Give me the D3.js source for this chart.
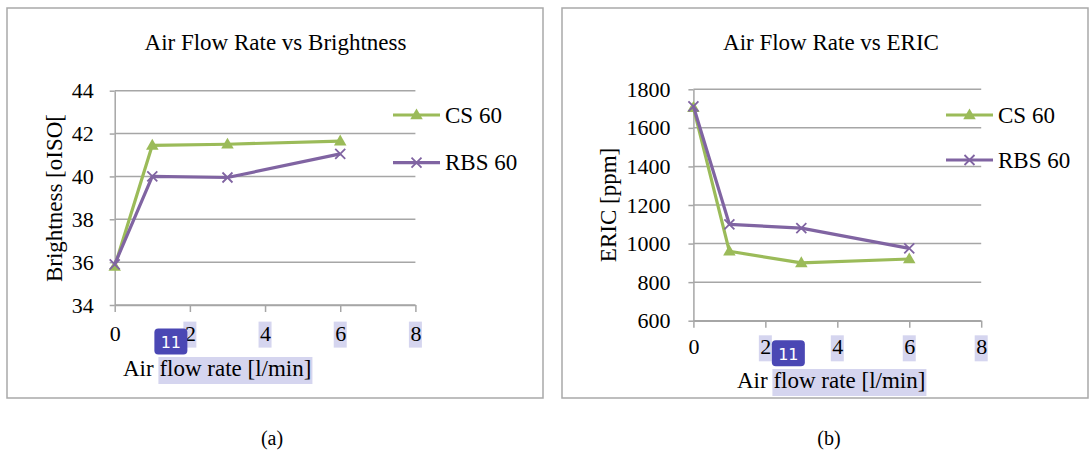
<!DOCTYPE html>
<html>
<head>
<meta charset="utf-8">
<script src="https://cdn.jsdelivr.net/npm/d3@7"></script>
<style>
  html, body { margin: 0; padding: 0; background: #ffffff; }
  svg text { font-family: "Liberation Serif", "Times New Roman", Times, serif; fill: #000; }
</style>
</head>
<body>
<svg id="chart" width="1090" height="457"></svg>
<script>
// ---- data ----
const airFlow = [0, 1, 3, 6];
const seriesNames = ["CS 60", "RBS 60"];
const brightnessCS = [35.8, 41.45, 41.5, 41.65];
const brightnessRBS = [35.9, 40.0, 39.95, 41.05];
const ericCS = [1705, 960, 900, 920];
const ericRBS = [1712, 1100, 1080, 975];
const xTicks = [0, 2, 4, 6, 8];
const brightnessTicks = [34, 36, 38, 40, 42, 44];
const ericTicks = [600, 800, 1000, 1200, 1400, 1600, 1800];
const highlightedXTicks = [2, 4, 6, 8];
const titles = ["Air Flow Rate vs Brightness", "Air Flow Rate vs ERIC"];
const yLabels = ["Brightness [oISO[", "ERIC [ppm]"];
const xLabel = "Air flow rate [l/min]";
const captions = ["(a)", "(b)"];
const badgeText = "11";

// ---- styles ----
const FONT = "'Liberation Serif', 'Times New Roman', Times, serif";
const colors = ["#9bbb59", "#8064a2"];
const gridColor = "#a6a6a6";
const hlColor = "#d5d5ef";
const badgeColor = "#4a47b4";

const svg = d3.select("#chart");

const panels = [
  {
    box: [7, 8, 543, 398],
    xRange: [114.7, 415.4], yRange: [305, 90.7],
    yDomain: [34, 44], yTicks: brightnessTicks,
    series: [brightnessCS, brightnessRBS],
    title: titles[0], titleX: 275.5, titleY: 50,
    yLabel: yLabels[0], yLabelX: 54, yLabelY: 198,
    xLabelX: 123, xLabelY: 376,
    yTickPad: 16, xTickPad: 13,
    legendX: 393, legendY: [115, 162.7],
    caption: captions[0], captionX: 272,
    badgeLeft: true, badgeDy: 8
  },
  {
    box: [562, 8, 1088, 398],
    xRange: [693.4, 981.2], yRange: [320.7, 89.3],
    yDomain: [600, 1800], yTicks: ericTicks,
    series: [ericCS, ericRBS],
    title: titles[1], titleX: 831, titleY: 50,
    yLabel: yLabels[1], yLabelX: 608, yLabelY: 205,
    xLabelX: 737, xLabelY: 388,
    yTickPad: 18, xTickPad: 11,
    legendX: 946, legendY: [115, 160],
    caption: captions[1], captionX: 829,
    badgeLeft: false, badgeDy: 6
  }
];

function triangle(g, cx, cy, color) {
  const s = 12.5, h = s * Math.sqrt(3) / 2;
  g.append("path")
    .attr("d", `M${cx},${cy - h * 0.6}L${cx + s / 2},${cy + h * 0.4}L${cx - s / 2},${cy + h * 0.4}Z`)
    .attr("fill", color);
}
function cross(g, cx, cy, color) {
  const r = 5;
  g.append("path")
    .attr("d", `M${cx - r},${cy - r}L${cx + r},${cy + r}M${cx - r},${cy + r}L${cx + r},${cy - r}`)
    .attr("stroke", color).attr("stroke-width", 1.8).attr("fill", "none");
}
const markers = [triangle, cross];

panels.forEach(p => {
  const g = svg.append("g");
  const [bx0, by0, bx1, by1] = p.box;
  g.append("rect").attr("x", bx0).attr("y", by0).attr("width", bx1 - bx0).attr("height", by1 - by0)
    .attr("fill", "#fff").attr("stroke", "#a9a9a9").attr("stroke-width", 1.5);

  const x = d3.scaleLinear().domain([0, 8]).range(p.xRange);
  const y = d3.scaleLinear().domain(p.yDomain).range(p.yRange);

  // title
  g.append("text").attr("x", p.titleX).attr("y", p.titleY).attr("text-anchor", "middle")
    .style("font-family", FONT).style("font-size", "23px").text(p.title);

  // gridlines
  g.append("g").selectAll("line").data(p.yTicks).join("line")
    .attr("x1", p.xRange[0]).attr("x2", p.xRange[1])
    .attr("y1", d => y(d)).attr("y2", d => y(d))
    .attr("stroke", gridColor).attr("stroke-width", 1.5);

  const hlLayer = g.append("g");

  // y axis
  const ya = g.append("g").attr("transform", `translate(${p.xRange[0]},0)`)
    .call(d3.axisLeft(y).tickValues(p.yTicks).tickFormat(d3.format("d"))
      .tickSize(5).tickSizeOuter(0).tickPadding(p.yTickPad));
  ya.attr("font-family", null);
  ya.select(".domain").attr("stroke", gridColor).attr("stroke-width", 1.5);
  ya.selectAll(".tick line").attr("stroke", gridColor).attr("stroke-width", 1.5);
  ya.selectAll("text").style("font-size", "22px").style("font-family", FONT);

  // x axis
  const xa = g.append("g").attr("transform", `translate(0,${p.yRange[0]})`)
    .call(d3.axisBottom(x).tickValues(xTicks).tickFormat(d3.format("d"))
      .tickSize(7).tickSizeOuter(0).tickPadding(p.xTickPad));
  xa.attr("font-family", null);
  xa.select(".domain").attr("stroke", gridColor).attr("stroke-width", 1.5);
  xa.selectAll(".tick line").attr("stroke", gridColor).attr("stroke-width", 1.5);
  xa.selectAll("text").style("font-size", "22px").style("font-family", FONT);

  // highlight selected x tick labels
  let tick2Box = null;
  xa.selectAll(".tick").each(function (d) {
    if (highlightedXTicks.includes(d)) {
      const t = d3.select(this).select("text").node();
      const bb = t.getBBox();
      hlLayer.append("rect")
        .attr("x", x(d) + bb.x - 1).attr("y", p.yRange[0] + bb.y + 1)
        .attr("width", bb.width + 2).attr("height", bb.height + 1)
        .attr("fill", hlColor);
      if (d === 2) tick2Box = { x: x(d) + bb.x, y: p.yRange[0] + bb.y, w: bb.width, h: bb.height };
    }
  });

  // y label
  g.append("text").attr("transform", `translate(${p.yLabelX},${p.yLabelY}) rotate(-90)`)
    .attr("text-anchor", "middle").attr("dominant-baseline", "central")
    .style("font-family", FONT).style("font-size", "23px").text(p.yLabel);

  // x label with highlight of "flow rate [l/min]"
  const xl = g.append("text").attr("x", p.xLabelX).attr("y", p.xLabelY)
    .style("font-family", FONT).style("font-size", "23px").text(xLabel);
  const node = xl.node();
  const start = xLabel.indexOf("flow");
  const e0 = node.getExtentOfChar(start);
  const bbAll = node.getBBox();
  hlLayer.append("rect")
    .attr("x", e0.x - 1).attr("y", bbAll.y + 1)
    .attr("width", bbAll.x + bbAll.width - e0.x + 2).attr("height", bbAll.height + 2)
    .attr("fill", hlColor);

  // series lines and markers
  p.series.forEach((vals, si) => {
    const pts = airFlow.map((xv, i) => [x(xv), y(vals[i])]);
    g.append("path").attr("d", d3.line()(pts))
      .attr("fill", "none").attr("stroke", colors[si]).attr("stroke-width", 3.2)
      .attr("stroke-linejoin", "round");
    pts.forEach(([cx, cy]) => markers[si](g, cx, cy, colors[si]));
  });

  // legend
  seriesNames.forEach((name, si) => {
    const ly = p.legendY[si];
    g.append("line").attr("x1", p.legendX).attr("x2", p.legendX + 47)
      .attr("y1", ly).attr("y2", ly).attr("stroke", colors[si]).attr("stroke-width", 3.2);
    markers[si](g, p.legendX + 23.5, ly, colors[si]);
    g.append("text").attr("x", p.legendX + 52).attr("y", ly).attr("dominant-baseline", "central")
      .style("font-family", FONT).style("font-size", "23px").text(name);
  });

  // caption
  svg.append("text").attr("x", p.captionX).attr("y", 438).attr("text-anchor", "middle")
    .attr("dominant-baseline", "central").style("font-family", FONT).style("font-size", "20px").text(p.caption);

  // badge
  if (tick2Box) {
    const bw = 33, bh = 26;
    const bxPos = p.badgeLeft ? tick2Box.x + 3 - bw : tick2Box.x + tick2Box.w + 1;
    const byPos = tick2Box.y + p.badgeDy;
    const bg = svg.append("g");
    bg.append("rect").attr("x", bxPos).attr("y", byPos).attr("width", bw).attr("height", bh)
      .attr("rx", 4).attr("fill", badgeColor);
    bg.append("text").attr("x", bxPos + bw / 2).attr("y", byPos + bh / 2 + 1)
      .attr("text-anchor", "middle").attr("dominant-baseline", "central")
      .style("font-family", "'DejaVu Sans', sans-serif").style("font-size", "16px")
      .style("fill", "#fff").text(badgeText);
  }
});
</script>
</body>
</html>
